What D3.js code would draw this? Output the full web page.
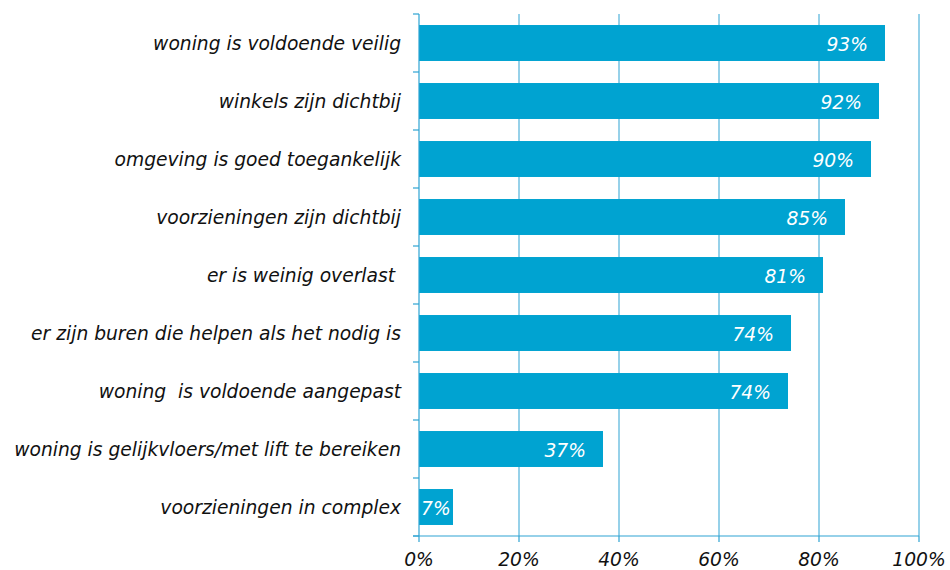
<!DOCTYPE html>
<html><head><meta charset="utf-8">
<script src="https://cdn.jsdelivr.net/npm/d3@7"></script>
<style>body{margin:0;background:#fff}svg{display:block}text{font-family:"DejaVu Sans",Verdana,sans-serif;font-style:italic}</style>
</head><body>
<svg id="c" width="950" height="570"></svg>
<script>
const categories = ["woning is voldoende veilig","winkels zijn dichtbij","omgeving is goed toegankelijk","voorzieningen zijn dichtbij","er is weinig overlast ","er zijn buren die helpen als het nodig is","woning  is voldoende aangepast","woning is gelijkvloers/met lift te bereiken","voorzieningen in complex"];
const values = [93.2, 92, 90.4, 85.2, 80.8, 74.4, 73.8, 36.8, 6.8];
const valueLabels = ["93%","92%","90%","85%","81%","74%","74%","37%","7%"];
const tickValues = [0,20,40,60,80,100];
const tickLabels = ["0%","20%","40%","60%","80%","100%"];

const svg = d3.select("#c");
const L = 419, R = 919, T = 14, B = 536;
const x = d3.scaleLinear().domain([0,100]).range([L,R]);
const y = d3.scaleBand().domain(categories).range([T,B]).paddingInner(0.38).paddingOuter(0.19);
const blue = "#00A3D1", grid = "#2ea3d3";
const fs = 18.7;

// gridlines
svg.append("g").selectAll("line").data(tickValues.slice(1)).join("line")
  .attr("x1",d=>x(d)).attr("x2",d=>x(d)).attr("y1",T).attr("y2",B)
  .attr("stroke",grid).attr("stroke-width",1);

// bars
svg.append("g").selectAll("rect").data(values).join("rect")
  .attr("x",x(0)).attr("y",(d,i)=>y(categories[i]))
  .attr("width",d=>x(d)-x(0)).attr("height",y.bandwidth())
  .attr("fill",blue);

// y axis line + ticks at band boundaries
svg.append("line").attr("x1",L).attr("x2",L).attr("y1",T).attr("y2",B).attr("stroke",grid).attr("stroke-width",1.2);
const bounds = d3.range(categories.length+1).map(i=>T + i*y.step());
svg.append("g").selectAll("line").data(bounds).join("line")
  .attr("x1",L-6).attr("x2",L).attr("y1",d=>d).attr("y2",d=>d).attr("stroke",grid).attr("stroke-width",1.2);

// x axis line + ticks
svg.append("line").attr("x1",L-6).attr("x2",R).attr("y1",B).attr("y2",B).attr("stroke",grid).attr("stroke-width",1.2);
svg.append("g").selectAll("line").data(tickValues).join("line")
  .attr("x1",d=>x(d)).attr("x2",d=>x(d)).attr("y1",B).attr("y2",B+6).attr("stroke",grid).attr("stroke-width",1.2);

// x tick labels
svg.append("g").selectAll("text").data(tickValues).join("text")
  .attr("x",d=>x(d)).attr("y",566).attr("text-anchor","middle")
  .attr("font-size",fs).attr("fill","#111").text((d,i)=>tickLabels[i]);

// category labels
svg.append("g").selectAll("text").data(categories).join("text")
  .attr("x",L-18).attr("y",d=>y(d)+y.bandwidth()/2+6.5)
  .attr("text-anchor","end").attr("font-size",fs).attr("fill","#111")
  .style("white-space","pre").attr("xml:space","preserve").text(d=>d);

// value labels
const vl = svg.append("g").selectAll("text").data(values).join("text")
  .attr("y",(d,i)=>y(categories[i])+y.bandwidth()/2+7.5)
  .attr("text-anchor","end").attr("font-size",fs).attr("fill","#fff")
  .text((d,i)=>valueLabels[i]);
vl.each(function(d){
  const len = this.getComputedTextLength();
  d3.select(this).attr("x", Math.max(x(d)-17, x(0)+2+len));
});
</script>
</body></html>
